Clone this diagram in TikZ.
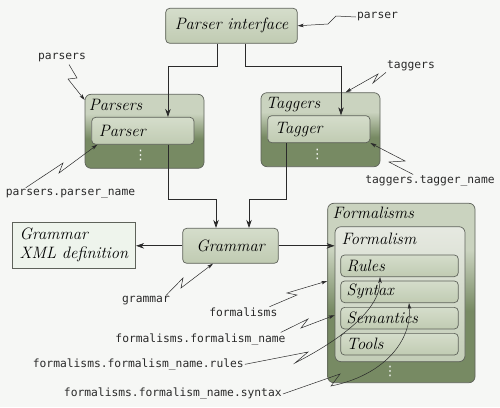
\documentclass[tikz,border=0pt]{standalone}
\usepackage{fontspec}
\newfontfamily\monofont{DejaVu Sans Mono}
\newfontfamily\symfont{DejaVu Sans}
\usetikzlibrary{arrows.meta,calc}
\definecolor{bg}{HTML}{F6F7F5}
\definecolor{bordc}{HTML}{5E625A}
\definecolor{boxtop}{HTML}{D5DDCB}
\definecolor{boxbot}{HTML}{C0CBB2}
\definecolor{clight}{HTML}{CAD3BF}
\definecolor{cdark}{HTML}{778A63}
\definecolor{ftop}{HTML}{E6E9E1}
\definecolor{fbot}{HTML}{C3CDB7}
\definecolor{xmlfill}{HTML}{EEF4EC}
\definecolor{linec}{HTML}{2A2A2A}
\pgfdeclareverticalshading{contshade}{100bp}{color(0bp)=(cdark); color(25bp)=(cdark); color(45bp)=(cdark); color(62bp)=(clight); color(75bp)=(clight); color(100bp)=(clight)}
\newcommand\boxfont{\fontsize{16.5}{19}\selectfont\itshape}
\newcommand\lblfont{\monofont\fontsize{11.3}{13}\selectfont}
\tikzset{
  box/.style={draw=bordc, line width=0.7pt, rounded corners=4pt, top color=boxtop, bottom color=boxbot, inner sep=0pt, font=\boxfont},
  cont/.style={draw=bordc, line width=0.7pt, rounded corners=6pt, shading=contshade, inner sep=0pt},
  ctitle/.style={anchor=base west, inner sep=0pt, font=\boxfont},
  lbl/.style={font=\lblfont, inner sep=1pt, text=linec},
  arr/.style={draw=linec, line width=0.7pt, -{Stealth[length=8pt,width=5.5pt,inset=2.5pt]}},
  zarr/.style={draw=linec, line width=0.5pt, -{Stealth[length=6pt,width=3.5pt,inset=1.5pt]}},
  vdotsnode/.style={inner sep=0pt, text=white, font=\symfont\fontsize{13}{15}\selectfont}
}
\begin{document}
\begin{tikzpicture}[x=1pt,y=-1pt]
\fill[bg] (0,0) rectangle (500,407);
\useasboundingbox (0,0) rectangle (500,407);

% top box
\node[box, minimum width=131.6pt, minimum height=35pt] (PI) at (231.5,25.8) {Parser interface};

% Parsers container
\node[cont, minimum width=119pt, minimum height=74pt] (Parsers) at (144.5,131.3) {};
\node[ctitle] (tParsers) at ($(Parsers.north west)+(4,16.7)$) {Parsers};
\node[box, minimum width=102.3pt, minimum height=27pt, text width=88pt, align=left] (Parser) at (142.85,130.8) {Parser};
\node[vdotsnode] (dParsers) at (140.7,155.7) {⋮};

% Taggers container
\node[cont, minimum width=119pt, minimum height=74pt] (Taggers) at (320.5,129.7) {};
\node[ctitle] (tTaggers) at ($(Taggers.north west)+(5,16.6)$) {Taggers};
\node[box, minimum width=102.3pt, minimum height=27pt, text width=88pt, align=left] (Tagger) at (318.85,129.2) {Tagger};
\node[vdotsnode] (dTaggers) at (317.3,154) {⋮};

% Grammar
\node[box, minimum width=95.6pt, minimum height=35pt] (Grammar) at (230.5,245.8) {Grammar};
\node[draw=bordc, line width=0.7pt, fill=xmlfill, minimum width=123pt, minimum height=46pt, text width=109pt, align=left, inner sep=0pt, font=\boxfont] (XML) at (74.2,245.3) {Grammar\\XML definition};

% Formalisms container
\node[cont, minimum width=147.3pt, minimum height=179.4pt] (Formalisms) at (401.35,293) {};
\node[ctitle] (tFormalisms) at ($(Formalisms.north west)+(5,15.7)$) {Formalisms};
\node[draw=bordc, line width=0.7pt, rounded corners=6pt, top color=ftop, bottom color=fbot, minimum width=130pt, minimum height=135pt, inner sep=0pt] (Formalism) at (400,294.2) {};
\node[ctitle] (tFormalism) at ($(Formalism.north west)+(6.7,18.3)$) {Formalism};
\node[box, minimum width=117.6pt, minimum height=21.7pt, text width=105.6pt, align=left] (Rules) at (399.5,265.8) {Rules};
\node[box, minimum width=117.6pt, minimum height=21.7pt, text width=105.6pt, align=left] (Syntax) at (399.5,291.8) {Syntax};
\node[box, minimum width=117.6pt, minimum height=21.7pt, text width=105.6pt, align=left] (Semantics) at (399.5,318.2) {Semantics};
\node[box, minimum width=117.6pt, minimum height=21.7pt, text width=105.6pt, align=left] (Tools) at (399.5,344.2) {Tools};
\node[vdotsnode] (dFormalisms) at (390,371.7) {⋮};

% labels
\node[lbl] (lparser) at (377.5,17) {parser};
\node[lbl] (lparsers) at (62,58) {parsers};
\node[lbl] (lpn) at (70.5,193.5) {parsers.parser\_name};
\node[lbl] (ltaggers) at (411,66) {taggers};
\node[lbl] (ltn) at (430,181) {taggers.tagger\_name};
\node[lbl] (lgrammar) at (146,301) {grammar};
\node[lbl] (lformalisms) at (243.3,312.3) {formalisms};
\node[lbl] (lfn) at (200.5,339.3) {formalisms.formalism\_name};
\node[lbl] (lrules) at (138.3,364.3) {formalisms.formalism\_name.rules};
\node[lbl] (lsyntax) at (172.8,394) {formalisms.formalism\_name.syntax};

% main connectors
\draw[arr] ($(PI.south)+(-14.5,0)$) -- ++(0,22.7) -| ($(Parser.north)+(25.1,0)$);
\draw[arr] ($(PI.south)+(13.5,0)$) -- ++(0,22.7) -| ($(Tagger.north)+(22.15,0)$);
\draw[arr] ($(Parser.south)+(25.1,0)$) -- ++(0,54.7) -| ($(Grammar.north)+(-14.5,0)$);
\draw[arr] ($(Tagger.south)+(-32.85,0)$) -- ++(0,56.3) -| ($(Grammar.north)+(18.5,0)$);
\draw[arr] (Grammar.west) -- (Grammar.west -| XML.east);
\draw[arr] (Grammar.east) -- (Grammar.east -| Formalism.west);

% zigzag label connectors
\draw[zarr] (lparser.west) -- (336,16) -- (328,24) -- (PI.east);
\draw[zarr] ($(lparsers.south)+(7,1)$) -- (77,78) -- (68,79) -- ($(Parsers.north west)+(0,6)$);
\draw[zarr] ($(lpn.north west)+(21,0)$) -- (63,163) -- (59,173) -- ($(Parser.south west)+(6,0)$);
\draw[zarr] (ltaggers.south west) -- (373,83) -- (378,74) -- ($(Taggers.north west)+(85,0)$);
\draw[zarr] ($(ltn.north west)+(49,0)$) -- (389,162) -- (405,161) -- (Tagger.south east);
\draw[zarr] ($(lgrammar.north east)+(-5,0)$) -- (183,278) -- (181,288) -- ($(Grammar.south)+(-17.5,0)$);
\draw[zarr] ($(lformalisms.north east)+(-9,0)$) -- (297,295) -- (287,293) -- ($(Formalisms.west)+(0,-12)$);
\draw[zarr] ($(lfn.north east)+(-6,0)$) -- (308,319) -- (301,328) -- ($(Formalism.west)+(0,21)$);
\draw[zarr] (lrules.east) -- (308,352) -- (295,363) .. controls (340,340) and (380,310) .. ($(Rules.south)+(-19.5,0)$);
\draw[zarr] (lsyntax.east) -- (340,374) -- (331,386) .. controls (385,375) and (412,340) .. ($(Syntax.south)+(9.5,0)$);
\end{tikzpicture}
\end{document}
